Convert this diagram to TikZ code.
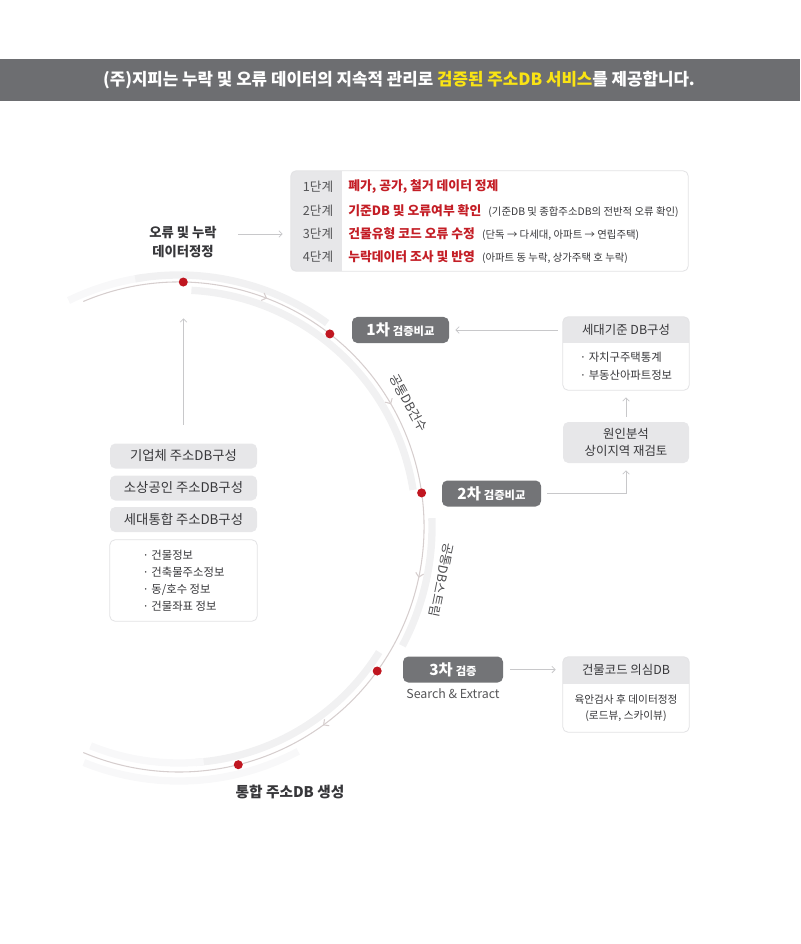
\documentclass[tikz,border=0pt]{standalone}
\usepackage{fontspec}
\setmainfont{Noto Sans CJK KR}
\usetikzlibrary{arrows.meta,calc,positioning,decorations.markings}
\definecolor{headgray}{RGB}{109,110,113}
\definecolor{hiyellow}{RGB}{250,228,20}
\definecolor{stepred}{RGB}{196,30,38}
\definecolor{dotred}{RGB}{192,22,32}
\definecolor{boxgray}{RGB}{231,231,233}
\definecolor{edgegray}{RGB}{226,226,228}
\definecolor{pillgray}{RGB}{115,116,119}
\definecolor{ringgray}{RGB}{214,206,206}
\definecolor{bandgray}{RGB}{241,241,242}
\definecolor{fadegray}{RGB}{248,248,249}
\definecolor{txt}{RGB}{55,55,58}
\definecolor{linkgray}{RGB}{200,200,202}
\begin{document}
\begin{tikzpicture}[x=0.75pt,y=-0.75pt,
  every node/.style={text=txt},
  link/.style={draw=linkgray, line width=0.6pt, -{Straight Barb[length=2.5pt,width=5pt]}},
  ring/.style={draw=ringgray, line width=0.8pt},
  band/.style={draw=bandgray, line width=5.5pt},
  fade/.style={draw=fadegray, line width=5.5pt},
  dot/.style={circle, fill=dotred, inner sep=0pt, minimum size=6.75pt},
  pill/.style={fill=pillgray, rounded corners=4pt, text=white, minimum height=19.5pt, inner sep=0pt},
  tag/.style={fill=boxgray, rounded corners=4pt, minimum width=110.25pt, minimum height=18.75pt, inner sep=0pt, font=\fontsize{10}{12}\selectfont},
  card/.style={fill=white, rounded corners=4pt, inner sep=0pt},
  edge/.style={draw=edgegray, line width=0.6pt, rounded corners=4pt},
  steplbl/.style={font=\fontsize{9.5}{11}\selectfont, text=txt!85},
  stepmain/.style={anchor=west, font=\bfseries\fontsize{9.6}{11}\selectfont, text=stepred, inner sep=0pt},
  stepnote/.style={anchor=base west, font=\fontsize{7.8}{9}\selectfont, inner sep=0pt},
  arclbl/.style={font=\fontsize{9.5}{11}\selectfont, text=txt!90},
  ]
\useasboundingbox (0,0) rectangle (800,944);

% header bar
\fill[headgray] (0,59) rectangle (800,101);
\node[font=\bfseries\fontsize{12.6}{14}\selectfont, text=white] (title) at (399,80)
  {(주)지피는 누락 및 오류 데이터의 지속적 관리로 \textcolor{hiyellow}{검증된 주소DB 서비스}를 제공합니다.};

% steps
\node[card, minimum width=297.75pt, minimum height=75pt] (steps) at (489.5,221) {};
\begin{scope}
  \clip[rounded corners=4pt] (steps.north west) rectangle (steps.south east);
  \fill[boxgray] (steps.north west) rectangle (342,271);
\end{scope}
\draw[edge] (steps.north west) rectangle (steps.south east);
\node[steplbl] (l1) at (318,187) {1단계};
\node[steplbl] (l2) at (318,211) {2단계};
\node[steplbl] (l3) at (318,234) {3단계};
\node[steplbl] (l4) at (318,257) {4단계};
\node[stepmain] (s1) at (348,187) {폐가, 공가, 철거 데이터 정제};
\node[stepmain] (s2) at (348,211) {기준DB 및 오류여부 확인};
\node[stepmain] (s3) at (348,234) {건물유형 코드 오류 수정};
\node[stepmain] (s4) at (348,257) {누락데이터 조사 및 반영};
\node[stepnote] (n2) at ([xshift=5pt]s2.base east) {(기준DB 및 종합주소DB의 전반적 오류 확인)};
\node[stepnote] (n3) at ([xshift=5pt]s3.base east) {(단독 → 다세대, 아파트 → 연립주택)};
\node[stepnote] (n4) at ([xshift=5pt]s4.base east) {(아파트 동 누락, 상가주택 호 누락)};

\node[font=\bfseries\fontsize{10}{14}\selectfont, align=center] (fix) at (183,242) {오류 및 누락\\데이터정정};
\coordinate (fixout) at (238,234);
\draw[link, shorten >=6pt] (fixout) -- (fixout -| steps.west);

% ring
\coordinate (ctr) at (179,527);
\draw[fade] (ctr) ++(-116:252) arc[start angle=-116, end angle=-98, radius=252];
\draw[band] (ctr) ++(-100:252) arc[start angle=-100, end angle=-54, radius=252];
\draw[band] (ctr) ++(-87:237) arc[start angle=-87, end angle=-9, radius=237];
\draw[band] (ctr) ++(-2:253) arc[start angle=-2, end angle=28, radius=253];
\draw[band] (ctr) ++(32:236) arc[start angle=32, end angle=86, radius=236];
\draw[fade] (ctr) ++(84:236) arc[start angle=84, end angle=112, radius=236];
\draw[fade] (ctr) ++(62:254) arc[start angle=62, end angle=112, radius=254];
\draw[ring, postaction={decorate}, decoration={markings,
    mark=at position 0.195 with {\arrow[ringgray]{Straight Barb[length=3pt,width=6pt]}},
    mark=at position 0.367 with {\arrow[ringgray]{Straight Barb[length=3pt,width=6pt]}},
    mark=at position 0.553 with {\arrow[ringgray]{Straight Barb[length=3pt,width=6pt]}},
    mark=at position 0.739 with {\arrow[ringgray]{Straight Barb[length=3pt,width=6pt]}}}]
  (ctr) ++(-113:245) arc[start angle=-113, end angle=113, radius=245];
\node[dot] (d1) at ($(ctr)+(-89:245)$) {};
\node[dot] (d2) at ($(ctr)+(-52:245)$) {};
\node[dot] (d3) at ($(ctr)+(-8:245)$) {};
\node[dot] (d4) at ($(ctr)+(36:245)$) {};
\node[dot] (d5) at ($(ctr)+(76:245)$) {};
\node[arclbl, rotate=-61.6] (flow1) at ($(ctr)+(-28.4:261)$) {공통DB건수};
\node[arclbl, rotate=-101.4] (flow2) at ($(ctr)+(11.4:268)$) {공통DB스트림};

% left sources
\node[tag] (corp) at (183.5,456) {기업체 주소DB구성};
\node[tag] (shop) at (183.5,488) {소상공인 주소DB구성};
\node[tag] (home) at (183.5,519.5) {세대통합 주소DB구성};
\node[card, minimum width=110.25pt, minimum height=60.75pt, align=left,
  font=\fontsize{8.5}{12.75}\selectfont] (bldg) at (183.5,580.5)
  {· 건물정보\\· 건축물주소정보\\· 동/호수 정보\\· 건물좌표 정보};
\draw[edge] (bldg.north west) rectangle (bldg.south east);
\draw[link, shorten <=13.9pt, shorten >=23.6pt] (corp.north) -- (corp.north |- d1.south);

% checks
\node[pill, minimum width=72.75pt] (v1) at (400.5,330)
  {{\bfseries\fontsize{11.5}{12}\selectfont 1차} {\bfseries\fontsize{8.5}{10}\selectfont 검증비교}};
\node[pill, minimum width=74.25pt] (v2) at (491.5,493.5)
  {{\bfseries\fontsize{11.5}{12}\selectfont 2차} {\bfseries\fontsize{8.5}{10}\selectfont 검증비교}};
\node[pill, minimum width=75pt] (v3) at (453,669.5)
  {{\bfseries\fontsize{11.5}{12}\selectfont 3차} {\bfseries\fontsize{8.5}{10}\selectfont 검증}};
\node[font=\fontsize{9.3}{11}\selectfont, text=txt!85] (se) at (453,694) {Search \& Extract};
\node[font=\bfseries\fontsize{11}{13}\selectfont] (done) at (290,792) {통합 주소DB 생성};

% right side
\node[card, minimum width=94.5pt, minimum height=54.75pt] (hh) at (626,353.5) {};
\begin{scope}
  \clip[rounded corners=4pt] (hh.north west) rectangle (hh.south east);
  \fill[boxgray] (hh.north west) rectangle (hh.east |- 0,343);
\end{scope}
\draw[edge] (hh.north west) rectangle (hh.south east);
\node[font=\fontsize{9.3}{11}\selectfont] (hhT) at (626,330) {세대기준 DB구성};
\node[font=\fontsize{8.5}{13.5}\selectfont, align=left] (hhB) at (626,366) {· 자치구주택통계\\· 부동산아파트정보};

\node[tag, minimum width=94.5pt, minimum height=30.75pt, align=center,
  font=\fontsize{9.3}{12.75}\selectfont] (cause) at (626,442.5) {원인분석\\상이지역 재검토};

\node[card, minimum width=94.5pt, minimum height=56.25pt] (odd) at (626,694.5) {};
\begin{scope}
  \clip[rounded corners=4pt] (odd.north west) rectangle (odd.south east);
  \fill[boxgray] (odd.north west) rectangle (odd.east |- 0,684);
\end{scope}
\draw[edge] (odd.north west) rectangle (odd.south east);
\node[font=\fontsize{9.3}{11}\selectfont] (oddT) at (626,670) {건물코드 의심DB};
\node[font=\fontsize{8}{12}\selectfont, align=center] (oddB) at (626,708) {육안검사 후 데이터정정\\(로드뷰, 스카이뷰)};

\draw[link, shorten <=3.75pt, shorten >=4.5pt] (hh.west |- v1) -- (v1.east);
\draw[link, shorten <=3.75pt, shorten >=5.25pt] (cause.north) -- (hh.south);
\draw[link, shorten <=4.5pt, shorten >=5.25pt] (v2.east) -| (cause.south);
\draw[link, shorten <=5.25pt, shorten >=5.25pt] (v3.east) -- (odd.west |- v3);
\end{tikzpicture}
\end{document}
